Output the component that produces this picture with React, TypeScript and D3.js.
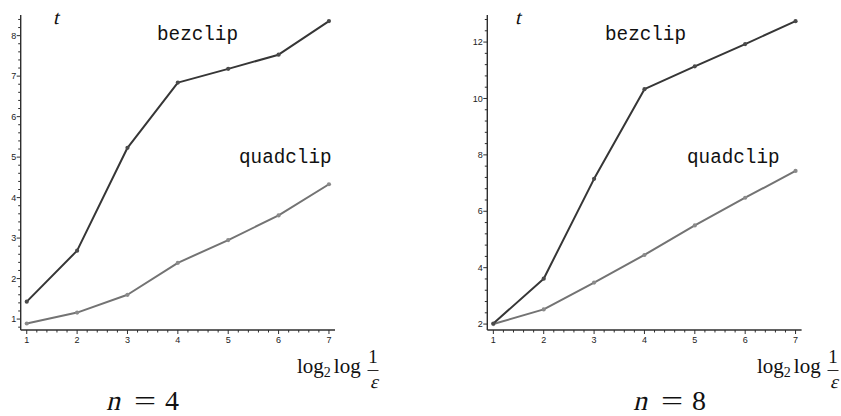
import React from "react";
import * as d3 from "d3";

// Running time t against log2 log(1/ε), for degree n = 4 and n = 8
const steps = [1, 2, 3, 4, 5, 6, 7];
const xTickLabels = ["1", "2", "3", "4", "5", "6", "7"];

const bezclipN4 = [1.43, 2.69, 5.23, 6.84, 7.18, 7.53, 8.36];
const quadclipN4 = [0.89, 1.16, 1.6, 2.39, 2.95, 3.56, 4.33];
const yTicksN4 = [1, 2, 3, 4, 5, 6, 7, 8];

const bezclipN8 = [2.02, 3.61, 7.15, 10.33, 11.14, 11.93, 12.74];
const quadclipN8 = [2.0, 2.52, 3.47, 4.45, 5.5, 6.48, 7.43];
const yTicksN8 = [2, 4, 6, 8, 10, 12];

const AXIS = "#2e2e2e";
const BEZ = "#363636";
const QUAD = "#737373";
const SERIF = "Liberation Serif, DejaVu Serif, Times New Roman, serif";

type PanelProps = {
  left: number;
  yDomain: [number, number];
  yMajor: number[];
  yMinorStep: number;
  bez: number[];
  quad: number[];
  n: string;
  tX: number;
  bezX: number;
  quadX: number;
  xLabelX: number;
  nX: number;
};

// Upright serif glyph slanted into a math-italic look
function Slanted(props: { x: number; y: number; size: number; anchor?: string; children: React.ReactNode }) {
  return (
    <g transform={`translate(${props.x},${props.y}) skewX(-13)`}>
      <text x={0} y={0} fontSize={props.size} fontFamily={SERIF} fill="#111" textAnchor={props.anchor ?? "start"}>
        {props.children}
      </text>
    </g>
  );
}

function Panel(p: PanelProps) {
  const top = 15;
  const bottom = 330;
  const x = d3.scaleLinear().domain([0.88, 7.12]).range([p.left, p.left + 314.3]);
  const y = d3.scaleLinear().domain(p.yDomain).range([bottom, top]);

  const xMinor = d3.range(1, 7.001, 0.2).filter((v) => Math.abs(v - Math.round(v)) > 1e-6);
  const yMinor = d3
    .range(Math.ceil(p.yDomain[0] / p.yMinorStep) * p.yMinorStep, p.yDomain[1], p.yMinorStep)
    .filter((v) => !p.yMajor.some((m) => Math.abs(m - v) < 1e-6));

  const line = d3
    .line<number>()
    .x((_, i) => x(steps[i]))
    .y((d) => y(d));

  const fr = p.xLabelX + 76; // centre of the 1/ε fraction

  return (
    <g>
      {/* axes */}
      <line x1={x(0.88)} x2={x(0.88)} y1={top} y2={bottom} stroke={AXIS} strokeWidth={1.4} />
      <line x1={x(0.88)} x2={x(7.12)} y1={bottom} y2={bottom} stroke={AXIS} strokeWidth={1.4} />

      {yMinor.map((v) => (
        <line key={"ym" + v} x1={x(0.88) - 2.5} x2={x(0.88)} y1={y(v)} y2={y(v)} stroke={AXIS} strokeWidth={1} />
      ))}
      {p.yMajor.map((v) => (
        <g key={"yM" + v}>
          <line x1={x(0.88) - 4} x2={x(0.88)} y1={y(v)} y2={y(v)} stroke={AXIS} strokeWidth={1} />
          <text x={x(0.88) - 4.5} y={y(v) + 3.2} textAnchor="end" fontSize={9} fontFamily="Liberation Sans, Arial, sans-serif" fill="#222">
            {v}
          </text>
        </g>
      ))}

      {xMinor.map((v) => (
        <line key={"xm" + v} x1={x(v)} x2={x(v)} y1={bottom} y2={bottom + 2.5} stroke={AXIS} strokeWidth={1} />
      ))}
      {steps.map((v, i) => (
        <g key={"xM" + v}>
          <line x1={x(v)} x2={x(v)} y1={bottom} y2={bottom + 4} stroke={AXIS} strokeWidth={1} />
          <text x={x(v)} y={bottom + 12.5} textAnchor="middle" fontSize={9} fontFamily="Liberation Sans, Arial, sans-serif" fill="#222">
            {xTickLabels[i]}
          </text>
        </g>
      ))}

      {/* series */}
      <path d={line(p.quad) ?? ""} fill="none" stroke={QUAD} strokeWidth={2} strokeLinejoin="round" />
      <path d={line(p.bez) ?? ""} fill="none" stroke={BEZ} strokeWidth={2} strokeLinejoin="round" />
      {p.quad.map((d, i) => (
        <circle key={"q" + i} cx={x(steps[i])} cy={y(d)} r={2.1} fill="#8a8a8a" />
      ))}
      {p.bez.map((d, i) => (
        <circle key={"b" + i} cx={x(steps[i])} cy={y(d)} r={2.1} fill="#4a4a4a" />
      ))}

      {/* labels */}
      <Slanted x={p.tX} y={24} size={20}>
        t
      </Slanted>
      <text x={p.bezX} y={40} fontSize={19.3} fontFamily="Liberation Mono, Courier New, monospace" fill="#111">
        bezclip
      </text>
      <text x={p.quadX} y={163} fontSize={19.3} fontFamily="Liberation Mono, Courier New, monospace" fill="#111">
        quadclip
      </text>

      <text x={p.xLabelX} y={373} fontSize={21} fontFamily={SERIF} fill="#111">
        log<tspan fontSize={14} dy={4}>2</tspan>
        <tspan dy={-4} dx={3}>log</tspan>
      </text>
      <text x={fr} y={363} textAnchor="middle" fontSize={19} fontFamily={SERIF} fill="#111">
        1
      </text>
      <line x1={fr - 5.5} x2={fr + 5.5} y1={370.5} y2={370.5} stroke="#111" strokeWidth={0.9} />
      <Slanted x={fr + 1} y={388} size={19} anchor="middle">
        ε
      </Slanted>

      {/* n = … caption */}
      <Slanted x={p.nX + 1} y={410} size={28}>
        n
      </Slanted>
      <g transform={`translate(${p.nX + 40},410) scale(1.4,1)`}>
        <text x={0} y={0} textAnchor="middle" fontSize={28} fontFamily={SERIF} fill="#111">
          =
        </text>
      </g>
      <text x={p.nX + 60} y={410} fontSize={28} fontFamily={SERIF} fill="#111">
        {p.n}
      </text>
    </g>
  );
}

export default function App() {
  return (
    <svg
      width={841}
      height={416}
      viewBox="0 0 841 416"
      style={{ position: "absolute", left: 0, top: 0, background: "#fff" }}
    >
      <rect width={841} height={416} fill="#fff" />
      <Panel
        left={20.7}
        yDomain={[0.73, 8.51]}
        yMajor={yTicksN4}
        yMinorStep={0.2}
        bez={bezclipN4}
        quad={quadclipN4}
        n="4"
        tX={53}
        bezX={157}
        quadX={239}
        xLabelX={297}
        nX={105}
      />
      <Panel
        left={487.3}
        yDomain={[1.79, 12.96]}
        yMajor={yTicksN8}
        yMinorStep={0.4}
        bez={bezclipN8}
        quad={quadclipN8}
        n="8"
        tX={515}
        bezX={605}
        quadX={687}
        xLabelX={757}
        nX={632}
      />
    </svg>
  );
}
